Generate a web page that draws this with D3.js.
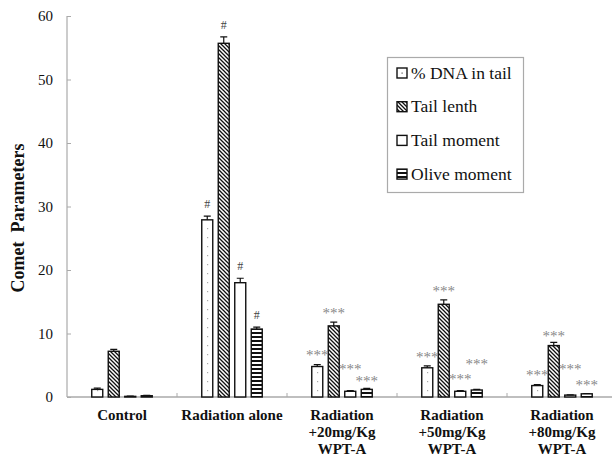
<!DOCTYPE html>
<html><head><meta charset="utf-8">
<script src="https://cdn.jsdelivr.net/npm/d3@7"></script>
<style>body{margin:0;background:#fff}svg{display:block}</style>
</head><body><svg id="c" width="612" height="456"></svg>
<script>
const categories = [["Control"], ["Radiation alone"], ["Radiation", "+20mg/Kg", "WPT-A"], ["Radiation", "+50mg/Kg", "WPT-A"], ["Radiation", "+80mg/Kg", "WPT-A"]];
const seriesNames = ["% DNA in tail", "Tail lenth", "Tail moment", "Olive moment"];
const dnaTail = [1.2, 27.9, 4.8, 4.6, 1.8];
const tailLength = [7.2, 55.7, 11.2, 14.6, 8.1];
const tailMoment = [0.1, 18.0, 0.9, 0.9, 0.3];
const oliveMoment = [0.2, 10.7, 1.2, 1.1, 0.5];
const dnaErr = [0.2, 0.6, 0.3, 0.3, 0.15];
const lenErr = [0.3, 1.0, 0.6, 0.7, 0.5];
const tmErr = [0.05, 0.7, 0.1, 0.1, 0.05];
const omErr = [0.05, 0.3, 0.15, 0.1, 0.05];
const sigLabels = ["", "#", "***", "***", "***"];
const yTicks = [0, 10, 20, 30, 40, 50, 60];

const values = [dnaTail, tailLength, tailMoment, oliveMoment];
const errs = [dnaErr, lenErr, tmErr, omErr];
const fills = ["url(#dots)", "url(#hatch)", "#fff", "url(#stripes)"];
const FONT = '"Liberation Serif", "Times New Roman", serif';

const svg = d3.select("#c");

const defs = svg.append("defs");
const pd = defs.append("pattern").attr("id", "dots").attr("patternUnits", "userSpaceOnUse").attr("width", 7).attr("height", 9);
pd.append("rect").attr("width", 7).attr("height", 9).attr("fill", "#fff");
pd.append("rect").attr("x", 2).attr("y", 3).attr("width", 1.2).attr("height", 1.2).attr("fill", "#aaa");
const ph = defs.append("pattern").attr("id", "hatch").attr("patternUnits", "userSpaceOnUse").attr("width", 4).attr("height", 4);
ph.append("rect").attr("width", 4).attr("height", 4).attr("fill", "#fff");
ph.append("path").attr("d", "M-1,-1 L5,5 M-1,3 L1,5 M3,-1 L5,1").attr("stroke", "#111").attr("stroke-width", 1.3);
const ps = defs.append("pattern").attr("id", "stripes").attr("patternUnits", "userSpaceOnUse").attr("width", 4).attr("height", 4);
ps.append("rect").attr("width", 4).attr("height", 4).attr("fill", "#fff");
ps.append("rect").attr("y", 0).attr("width", 4).attr("height", 2).attr("fill", "#111");

const x0 = 67, x1 = 617, yTop = 16, yBot = 397;
const x = d3.scaleBand().domain(d3.range(categories.length)).range([x0, x1]).padding(0);
const inner = d3.scaleBand().domain(d3.range(seriesNames.length))
  .range([x.bandwidth() / 2 - 30.25, x.bandwidth() / 2 + 30.25]).paddingInner(1 / 3).paddingOuter(0);
const y = d3.scaleLinear().domain([0, 60]).range([yBot, yTop]);

// y axis
const yAxis = svg.append("g").attr("transform", `translate(${x0},0)`)
  .call(d3.axisRight(y).tickValues(yTicks).tickSize(4).tickFormat(""));
yAxis.select(".domain").attr("stroke", "#aaa").attr("stroke-width", 1.2).attr("d", `M0,${yTop}V${yBot}`);
yAxis.selectAll(".tick line").attr("stroke", "#aaa");
svg.append("g").selectAll("text").data(yTicks).join("text")
  .attr("x", 53).attr("y", d => y(d) + 5).attr("text-anchor", "end")
  .style("font-family", FONT).attr("font-size", 15).attr("fill", "#111").text(d => d);

// x axis
svg.append("line").attr("x1", x0).attr("x2", 612).attr("y1", yBot).attr("y2", yBot)
  .attr("stroke", "#aaa").attr("stroke-width", 1.5);
svg.append("g").selectAll("line").data(d3.range(1, categories.length)).join("line")
  .attr("x1", d => x(d)).attr("x2", d => x(d)).attr("y1", yBot).attr("y2", yBot - 4)
  .attr("stroke", "#aaa");

// bars
const groups = svg.append("g").selectAll("g").data(d3.range(categories.length)).join("g")
  .attr("transform", d => `translate(${x(d)},0)`);
const bw = inner.bandwidth();
groups.each(function (ci) {
  const g = d3.select(this);
  values.forEach((arr, si) => {
    const v = arr[ci], e = errs[si][ci];
    const bx = inner(si);
    g.append("rect").attr("x", bx).attr("y", y(v)).attr("width", bw).attr("height", y(0) - y(v))
      .attr("fill", fills[si]).attr("stroke", "#111").attr("stroke-width", 1.4);
    const cx = bx + bw / 2;
    g.append("path").attr("d", `M${cx},${y(v + e)}V${y(v)} M${cx - 3.5},${y(v + e)}H${cx + 3.5}`)
      .attr("stroke", "#111").attr("stroke-width", 1.2).attr("fill", "none");
  });
});

// significance labels (lift = extra pixel offset used to keep neighbouring labels apart)
const lift = { 2: [0, -1, 12, -3], 3: [-1, -1, 2, 15], 4: [0, -4, 16, -1] };
groups.each(function (ci) {
  const lab = sigLabels[ci];
  if (!lab) return;
  const g = d3.select(this);
  values.forEach((arr, si) => {
    const top = y(arr[ci] + errs[si][ci]);
    const cx = inner(si) + bw / 2;
    if (lab === "#") {
      g.append("text").attr("x", cx).attr("y", top - 8).attr("text-anchor", "middle")
        .style("font-family", FONT).attr("font-size", 12).attr("fill", "#444").text(lab);
    } else {
      const l = (lift[ci] || [0, 0, 0, 0])[si];
      g.append("text").attr("x", cx).attr("y", top - 5 - l).attr("text-anchor", "middle")
        .style("font-family", FONT).attr("font-size", 15).attr("fill", "#888").text(lab);
    }
  });
});

// category labels
groups.each(function (ci) {
  const t = d3.select(this).append("text").attr("text-anchor", "middle")
    .style("font-family", FONT).attr("font-size", 15).attr("font-weight", "bold").attr("fill", "#111");
  categories[ci].forEach((line, li) => {
    t.append("tspan").attr("x", x.bandwidth() / 2).attr("y", 420 + li * 17).text(line);
  });
});

// y title
svg.append("text").attr("transform", "translate(24,218) rotate(-90)").attr("text-anchor", "middle")
  .style("font-family", FONT).attr("font-size", 18).attr("font-weight", "bold").attr("fill", "#111")
  .style("white-space", "pre").text("Comet  Parameters");

// legend
const lg = svg.append("g");
lg.append("rect").attr("x", 387.5).attr("y", 57.5).attr("width", 136).attr("height", 135)
  .attr("fill", "#fff").attr("stroke", "#aaa").attr("stroke-width", 1.2);
const legendFills = ["#fff", "url(#hatch)", "#fff", "url(#stripes)"];
seriesNames.forEach((name, i) => {
  const cy = 73 + i * 33.7;
  lg.append("rect").attr("x", 397).attr("y", cy - 5).attr("width", 10).attr("height", 10)
    .attr("fill", legendFills[i]).attr("stroke", "#111").attr("stroke-width", 1.4);
  if (i === 0) lg.append("rect").attr("x", 401.5).attr("y", cy - 0.5).attr("width", 1.2).attr("height", 1.2).attr("fill", "#555");
  lg.append("text").attr("x", 411).attr("y", cy + 5.5).style("font-family", FONT).attr("font-size", 17.5)
    .attr("fill", "#111").text(name);
});
</script></body></html>
